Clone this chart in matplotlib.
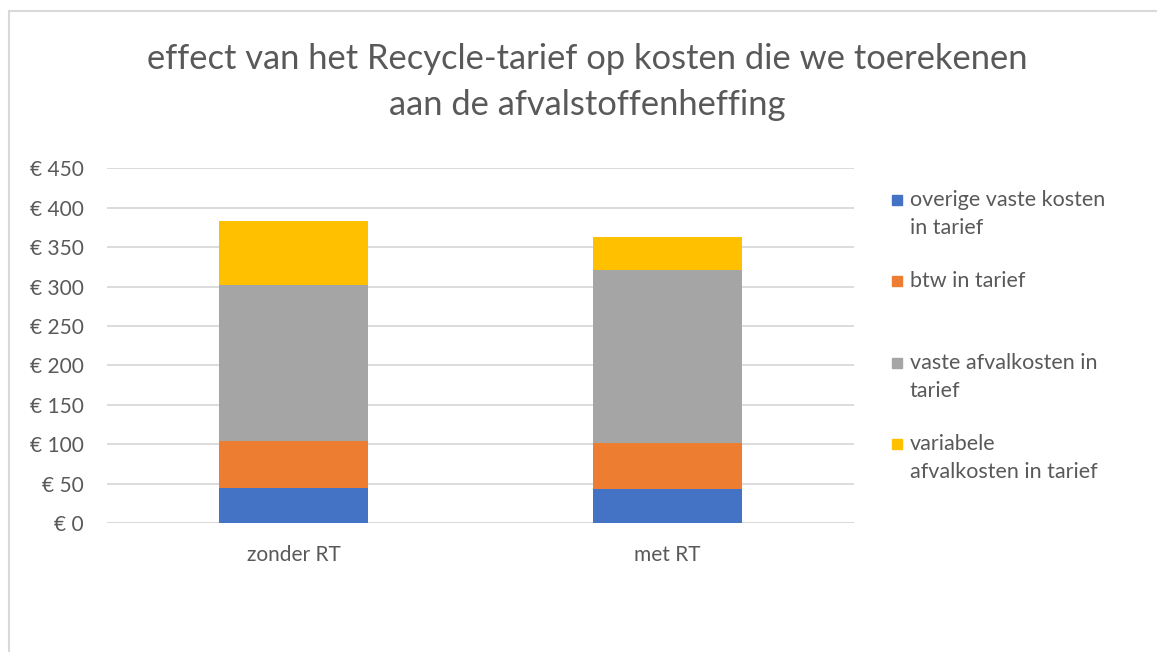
import numpy as np
import matplotlib
matplotlib.use('Agg')
import matplotlib.pyplot as plt
from matplotlib.patches import Rectangle

plt.rcParams['font.family'] = ['Lato', 'DejaVu Sans']

# data
categories = ['zonder RT', 'met RT']
series_names = ['overige vaste kosten\nin tarief', 'btw in tarief',
                'vaste afvalkosten in\ntarief', 'variabele\nafvalkosten in tarief']
overige_vast = [45, 43.5]
btw = [59, 58.5]
vast_afval = [198, 219]
variabel_afval = [81, 42]
yticks = [0, 50, 100, 150, 200, 250, 300, 350, 400, 450]

colors = ['#4472C4', '#ED7D31', '#A5A5A5', '#FFC000']
txt_col = '#595959'

fig = plt.figure(figsize=(11.57, 6.52), dpi=100)
ax = fig.add_axes([107/1157, 1 - 523/652, (854-107)/1157, (523-168.3)/652])

# chart border like the excel chart area
fig.patches.append(Rectangle((9/1157, -0.1), 1.2, 1 - 11/652 + 0.1,
                             transform=fig.transFigure, fill=False,
                             edgecolor='#D9D9D9', linewidth=1.5))

x = np.arange(len(categories))
bottom = np.zeros(len(categories))
for vals, c in zip([overige_vast, btw, vast_afval, variabel_afval], colors):
    ax.bar(x, vals, 0.4, bottom=bottom, color=c, zorder=3)
    bottom += np.array(vals)

ax.set_xlim(-0.5, 1.5)
ax.set_ylim(0, 450)
ax.set_yticks(yticks)
ax.set_yticklabels(['€ %d' % v for v in yticks])
ax.set_xticks(x)
ax.set_xticklabels(categories)
ax.yaxis.grid(True, color='#D9D9D9', linewidth=1.3, zorder=0)
ax.tick_params(length=0, labelsize=15, labelcolor=txt_col)
ax.tick_params(axis='y', pad=17)
ax.tick_params(axis='x', pad=16)
for s in ax.spines.values():
    s.set_visible(False)
ax.axhline(0, color='#D9D9D9', linewidth=1.3, zorder=1)

fig.text(587/1157, 1 - 82/652,
         'effect van het Recycle-tarief op kosten die we toerekenen\naan de afvalstoffenheffing',
         ha='center', va='center', fontsize=24.8, color=txt_col, linespacing=1.56)

# legend, evenly spaced first lines like excel
for i, (name, c) in enumerate(zip(series_names, colors)):
    ytop = 200 + 81.3 * i
    fig.patches.append(Rectangle((892/1157, 1 - (ytop + 5)/652), 10/1157, 10/652,
                                 transform=fig.transFigure, color=c))
    fig.text(910/1157, 1 - (ytop - 10)/652, name, ha='left', va='top',
             fontsize=15.5, color=txt_col, linespacing=1.5)

fig.savefig('out.png', dpi=100)
